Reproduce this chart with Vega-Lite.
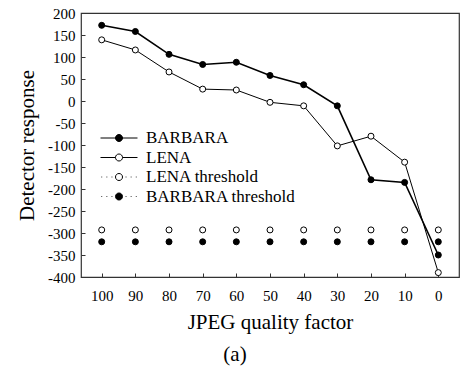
{
  "$schema": "https://vega.github.io/schema/vega-lite/v6.json",
  "width": 378,
  "height": 264,
  "autosize": "none",
  "padding": {"left": 81, "top": 13, "right": 2, "bottom": 95},
  "config": {
    "font": "Liberation Serif",
    "view": {"stroke": "#333", "strokeWidth": 1.2},
    "legend": {
      "title": null,
      "orient": "none",
      "legendX": 28,
      "legendY": 115,
      "padding": 0,
      "symbolSize": 342,
      "symbolStrokeWidth": 1,
      "symbolOpacity": 1,
      "labelOffset": 17,
      "labelFontSize": 17,
      "labelFont": "Liberation Serif",
      "labelColor": "black",
      "rowPadding": 1.5,
      "labelLimit": 300
    },
    "axis": {
      "grid": false,
      "domain": false,
      "tickSize": -4,
      "tickColor": "#333",
      "labelColor": "black",
      "titleColor": "black",
      "labelFontSize": 15,
      "titleFontSize": 21,
      "titleFontWeight": "normal",
      "labelFont": "Liberation Serif",
      "titleFont": "Liberation Serif"
    }
  },
  "title": {
    "text": "(a)",
    "orient": "bottom",
    "font": "Liberation Serif",
    "fontSize": 21,
    "fontWeight": "normal",
    "color": "black",
    "offset": 12,
    "dx": -35
  },
  "data": {
    "values": [
      {"q": 100, "value": 172, "series": "BARBARA"},
      {"q": 90, "value": 158, "series": "BARBARA"},
      {"q": 80, "value": 106, "series": "BARBARA"},
      {"q": 70, "value": 83, "series": "BARBARA"},
      {"q": 60, "value": 88, "series": "BARBARA"},
      {"q": 50, "value": 58, "series": "BARBARA"},
      {"q": 40, "value": 37, "series": "BARBARA"},
      {"q": 30, "value": -11, "series": "BARBARA"},
      {"q": 20, "value": -179, "series": "BARBARA"},
      {"q": 10, "value": -185, "series": "BARBARA"},
      {"q": 0, "value": -350, "series": "BARBARA"},
      {"q": 100, "value": 139, "series": "LENA"},
      {"q": 90, "value": 116, "series": "LENA"},
      {"q": 80, "value": 66, "series": "LENA"},
      {"q": 70, "value": 27, "series": "LENA"},
      {"q": 60, "value": 25, "series": "LENA"},
      {"q": 50, "value": -3, "series": "LENA"},
      {"q": 40, "value": -11, "series": "LENA"},
      {"q": 30, "value": -102, "series": "LENA"},
      {"q": 20, "value": -80, "series": "LENA"},
      {"q": 10, "value": -139, "series": "LENA"},
      {"q": 0, "value": -390, "series": "LENA"},
      {"q": 100, "value": -293, "series": "LENA threshold"},
      {"q": 90, "value": -293, "series": "LENA threshold"},
      {"q": 80, "value": -293, "series": "LENA threshold"},
      {"q": 70, "value": -293, "series": "LENA threshold"},
      {"q": 60, "value": -293, "series": "LENA threshold"},
      {"q": 50, "value": -293, "series": "LENA threshold"},
      {"q": 40, "value": -293, "series": "LENA threshold"},
      {"q": 30, "value": -293, "series": "LENA threshold"},
      {"q": 20, "value": -293, "series": "LENA threshold"},
      {"q": 10, "value": -293, "series": "LENA threshold"},
      {"q": 0, "value": -293, "series": "LENA threshold"},
      {"q": 100, "value": -320, "series": "BARBARA threshold"},
      {"q": 90, "value": -320, "series": "BARBARA threshold"},
      {"q": 80, "value": -320, "series": "BARBARA threshold"},
      {"q": 70, "value": -320, "series": "BARBARA threshold"},
      {"q": 60, "value": -320, "series": "BARBARA threshold"},
      {"q": 50, "value": -320, "series": "BARBARA threshold"},
      {"q": 40, "value": -320, "series": "BARBARA threshold"},
      {"q": 30, "value": -320, "series": "BARBARA threshold"},
      {"q": 20, "value": -320, "series": "BARBARA threshold"},
      {"q": 10, "value": -320, "series": "BARBARA threshold"},
      {"q": 0, "value": -320, "series": "BARBARA threshold"}
    ]
  },
  "encoding": {
    "x": {
      "field": "q",
      "type": "quantitative",
      "scale": {"domain": [-6.15, 106.15], "reverse": true, "nice": false, "zero": false},
      "axis": {
        "title": "JPEG quality factor",
        "values": [100, 90, 80, 70, 60, 50, 40, 30, 20, 10, 0],
        "labelPadding": 15,
        "titlePadding": 8
      }
    },
    "y": {
      "field": "value",
      "type": "quantitative",
      "scale": {"domain": [-400, 200], "nice": false},
      "axis": {
        "title": "Detector response",
        "values": [-400, -350, -300, -250, -200, -150, -100, -50, 0, 50, 100, 150, 200],
        "labelExpr": "toString(datum.value)",
        "labelPadding": 10,
        "titlePadding": 10
      }
    }
  },
  "layer": [
    {
      "transform": [{"filter": "datum.series === 'BARBARA'"}],
      "mark": {"type": "line", "color": "black", "strokeWidth": 1.6}
    },
    {
      "transform": [{"filter": "datum.series === 'LENA'"}],
      "mark": {"type": "line", "color": "black", "strokeWidth": 1}
    },
    {
      "transform": [{"filter": "datum.series === 'BARBARA' || datum.series === 'BARBARA threshold'"}],
      "mark": {"type": "point", "shape": "circle", "filled": true, "fill": "black", "stroke": "black", "strokeWidth": 1, "size": 36, "opacity": 1}
    },
    {
      "transform": [{"filter": "datum.series === 'LENA' || datum.series === 'LENA threshold'"}],
      "mark": {"type": "point", "shape": "circle", "filled": false, "fill": "white", "fillOpacity": 1, "stroke": "black", "strokeWidth": 1, "size": 36, "opacity": 1}
    },
    {
      "mark": {"type": "point", "opacity": 0, "strokeWidth": 1, "filled": false},
      "encoding": {
        "shape": {
          "field": "series",
          "type": "nominal",
          "scale": {
            "domain": ["BARBARA", "LENA", "LENA threshold", "BARBARA threshold"],
            "range": [
              "M-2,0H2M0.38,0A0.38,0.38 0 1 1 -0.38,0A0.38,0.38 0 1 1 0.38,0Z",
              "M-2,0H-0.38M0.38,0H2M0.38,0A0.38,0.38 0 1 1 -0.38,0A0.38,0.38 0 1 1 0.38,0Z",
              "M-1.9,0H-1.82M-1.35,0H-1.27M-0.8,0H-0.72M0.72,0H0.8M1.27,0H1.35M1.82,0H1.9M0.38,0A0.38,0.38 0 1 1 -0.38,0A0.38,0.38 0 1 1 0.38,0Z",
              "M-1.9,0H-1.82M-1.35,0H-1.27M-0.8,0H-0.72M0.72,0H0.8M1.27,0H1.35M1.82,0H1.9M0.38,0A0.38,0.38 0 1 1 -0.38,0A0.38,0.38 0 1 1 0.38,0Z"
            ]
          }
        },
        "fill": {
          "field": "series",
          "type": "nominal",
          "scale": {
            "domain": ["BARBARA", "LENA", "LENA threshold", "BARBARA threshold"],
            "range": ["black", "white", "white", "black"]
          }
        },
        "stroke": {
          "field": "series",
          "type": "nominal",
          "scale": {
            "domain": ["BARBARA", "LENA", "LENA threshold", "BARBARA threshold"],
            "range": ["black", "black", "black", "black"]
          }
        }
      }
    }
  ]
}
